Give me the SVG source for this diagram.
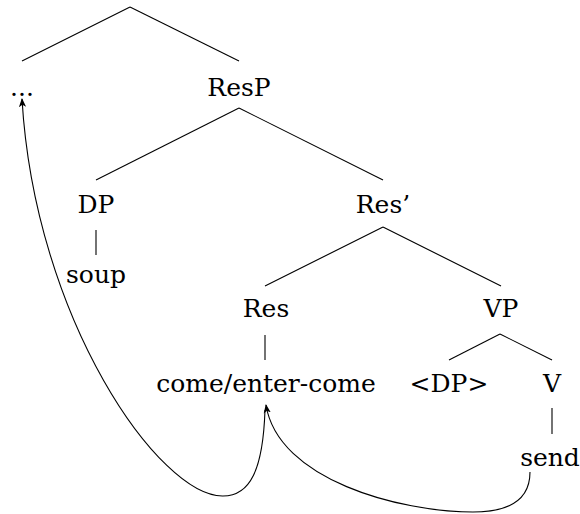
<svg xmlns="http://www.w3.org/2000/svg" width="580" height="514" viewBox="0 0 580 514">
<style>
text{font-family:'DejaVu Serif','Liberation Serif',serif;font-size:25px;fill:#000;text-anchor:middle}
.e{stroke:#000;stroke-width:1.1;fill:none}
</style>
<defs>
<marker id="ah" viewBox="0 0 10 10" refX="9" refY="5" markerWidth="9" markerHeight="9" markerUnits="userSpaceOnUse" orient="auto">
<path d="M0,1 L10,5 L0,9 L2.5,5 Z" fill="#000"/>
</marker>
</defs>
<g id="edges">
<line class="e" x1="130" y1="7" x2="22" y2="61"/>
<line class="e" x1="130" y1="7" x2="239" y2="61"/>
<line class="e" x1="239" y1="108" x2="96" y2="180"/>
<line class="e" x1="239" y1="108" x2="383" y2="180"/>
<line class="e" x1="96" y1="230" x2="96" y2="255"/>
<line class="e" x1="383" y1="227" x2="265" y2="286"/>
<line class="e" x1="383" y1="227" x2="501" y2="286"/>
<line class="e" x1="265" y1="335" x2="265" y2="360"/>
<line class="e" x1="500" y1="334" x2="449" y2="360"/>
<line class="e" x1="500" y1="334" x2="552" y2="360"/>
<line class="e" x1="552" y1="408" x2="552" y2="434"/>
<path class="e" d="M265,410 C263,470 250,496 223,496 C160,497 35,320 22,99" marker-end="url(#ah)"/>
<path class="e" d="M530,472 C530,500 510,512 473,512 C400,512 278,480 266,405" marker-end="url(#ah)"/>
</g>
<g id="n-dots"><text x="22" y="96">...</text></g>
<g id="n-resp"><text x="239" y="96">ResP</text></g>
<g id="n-dp"><text x="96" y="213">DP</text></g>
<g id="n-resbar"><text x="383" y="213">Res’</text></g>
<g id="n-soup"><text x="96" y="283">soup</text></g>
<g id="n-res"><text x="266" y="317">Res</text></g>
<g id="n-vp"><text x="501" y="317">VP</text></g>
<g id="n-come"><text x="266" y="392">come/enter-come</text></g>
<g id="n-dp2"><text x="449" y="392">&lt;DP&gt;</text></g>
<g id="n-v"><text x="552" y="392">V</text></g>
<g id="n-send"><text x="550" y="466">send</text></g>
</svg>
